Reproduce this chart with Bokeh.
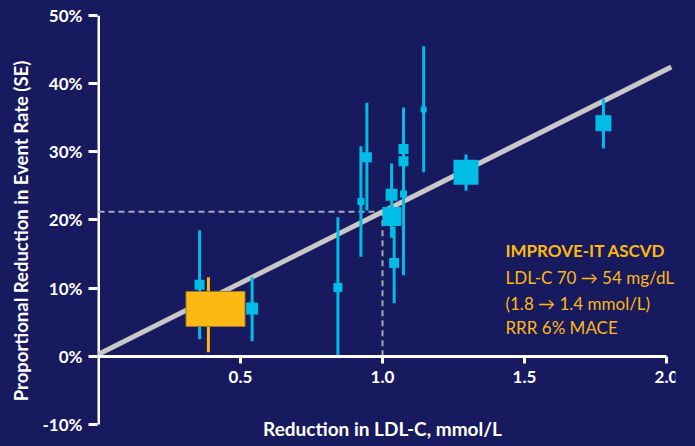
from bokeh.embed import file_html
from bokeh.models import ColumnDataSource, FixedTicker, Label, NumeralTickFormatter, PrintfTickFormatter, Range1d, Title
from bokeh.plotting import figure
from bokeh.resources import INLINE

# Individual trials: LDL-C reduction (mmol/L) vs proportional reduction in event rate (%)
ldl_reduction = [0.843, 0.924, 0.945, 1.032, 1.033, 1.041, 1.074, 1.074, 1.074, 1.145, 1.294, 1.778, 0.356, 0.541]
event_reduction = [10.1, 22.7, 29.2, 23.7, 20.5, 13.7, 30.4, 28.6, 23.8, 36.2, 27.0, 34.2, 10.5, 7.0]
ci_low = [0.1, 14.6, 21.4, 17.4, 18.8, 7.8, 25.0, 23.5, 11.9, 27.0, 24.3, 30.5, 2.5, 2.2]
ci_high = [20.4, 30.8, 37.2, 28.3, 22.2, 19.0, 35.5, 34.0, 36.5, 45.5, 29.6, 37.8, 18.5, 11.6]
# box side in pixels, proportional to trial weight
box_px = [9, 7, 10, 12, 19, 10, 10, 10, 7, 6, 25, 16, 10, 12]

# IMPROVE-IT ASCVD subgroup
improve_x = [0.412]
improve_ci_x = [0.387]
improve_y = [6.95]
improve_ci_low = [0.6]
improve_ci_high = [11.6]

# meta-regression line through the trials
fit_slope = 20.9
fit_intercept = 0.3
fit_x = [0.0, 2.017]
fit_y = [fit_intercept + fit_slope * v for v in fit_x]

# reference drop-lines at 1 mmol/L
ref_x = 1.0
ref_y = fit_intercept + fit_slope * ref_x

y_ticks = [-10, 0, 10, 20, 30, 40, 50]
x_ticks = [0.5, 1.0, 1.5, 2.0]

annotation_lines = ["IMPROVE-IT ASCVD", "LDL-C 70 \u2192 54 mg/dL", "(1.8 \u2192 1.4 mmol/L)", "RRR 6% MACE"]

BG = "#171a5e"
BLUE = "#00bde6"
GOLD = "#fdb913"
FONT = "Lato"

# frame runs to the bottom edge so the x-axis title (drawn by the floating axis) is not clipped
p = figure(
    width=695, height=446,
    x_range=Range1d(-0.00352, 2.0317), y_range=Range1d(-13.23, 50),
    output_backend="svg", toolbar_location=None,
    min_border_left=97, min_border_right=20, min_border_top=15, min_border_bottom=0,
)
p.background_fill_color = BG
p.border_fill_color = BG
p.outline_line_color = None
p.grid.visible = False
# paint the host element too, so no light seam shows between frame and border fills
p.styles = {"background-color": BG}

# x axis floats at 0 %, y axis sits on the frame's left edge
xa = p.xaxis[0]
xa.fixed_location = 0
xa.bounds = (0, 2.0)
xa.ticker = FixedTicker(ticks=x_ticks)
xa.formatter = NumeralTickFormatter(format="0.0")
xa.axis_label = "Reduction in LDL-C, mmol/L"
ya = p.yaxis[0]
ya.ticker = FixedTicker(ticks=y_ticks)
ya.formatter = PrintfTickFormatter(format="%d%%")

for ax in (xa, ya):
    ax.axis_line_color = "white"
    ax.axis_line_width = 3
    ax.major_tick_line_color = "white"
    ax.major_tick_line_width = 3
    ax.major_tick_in = 0
    ax.minor_tick_line_color = None
    ax.major_label_text_color = "white"
    ax.major_label_text_font = FONT
    ax.major_label_text_font_style = "bold"
    ax.major_label_text_font_size = "17px"
    ax.axis_label_text_color = "white"
    ax.axis_label_text_font = FONT
    ax.axis_label_text_font_style = "bold"

# the y rule is drawn as a glyph so it stops at the -10 % and 50 % ticks
ya.axis_line_color = None
xa.major_tick_out = 7
xa.major_label_standoff = 8
xa.axis_label_standoff = 30
xa.axis_label_text_font_size = "19px"
ya.major_tick_out = 9
ya.major_label_standoff = 6

p.add_layout(Title(text="Proportional Reduction in Event Rate (SE)", align="center",
                   offset=25, standoff=15, text_font_size="18.5px",
                   text_color="white", text_font=FONT, text_font_style="bold"), "left")

p.segment(x0=[0], y0=[y_ticks[0]], x1=[0], y1=[y_ticks[-1]], line_color="white", line_width=3)

# dashed drop-lines at 1 mmol/L
p.segment(x0=[0, ref_x], y0=[ref_y, 0], x1=[ref_x, ref_x], y1=[ref_y, ref_y],
          line_color="#a9aab8", line_width=2, line_dash="6 4")

# regression line
p.line(fit_x, fit_y, line_color="#c8c8c8", line_width=5)

trials = ColumnDataSource(dict(x=ldl_reduction, y=event_reduction, lo=ci_low, hi=ci_high, size=box_px))
p.segment(x0="x", y0="lo", x1="x", y1="hi", source=trials, line_color=BLUE, line_width=3)
p.scatter(x="x", y="y", size="size", marker="square", source=trials,
          fill_color=BLUE, line_color=None)

# IMPROVE-IT ASCVD highlight
p.segment(x0=improve_ci_x, y0=improve_ci_low, x1=improve_ci_x, y1=improve_ci_high,
          line_color=GOLD, line_width=3)
p.rect(x=improve_x, y=improve_y, width=59, height=35, width_units="screen", height_units="screen",
       fill_color=GOLD, line_color="#9c7a2a", line_width=1)

ann_y = [15.5, 11.6, 7.75, 4.27]
for i, (txt, yy) in enumerate(zip(annotation_lines, ann_y)):
    p.add_layout(Label(
        x=1.433, y=yy, text=txt, text_align="left", text_baseline="alphabetic",
        text_color=GOLD, text_font=FONT, text_font_style="bold" if i == 0 else "normal",
        text_font_size="17px",
    ))

open("out.html", "w").write(file_html(p, INLINE))
